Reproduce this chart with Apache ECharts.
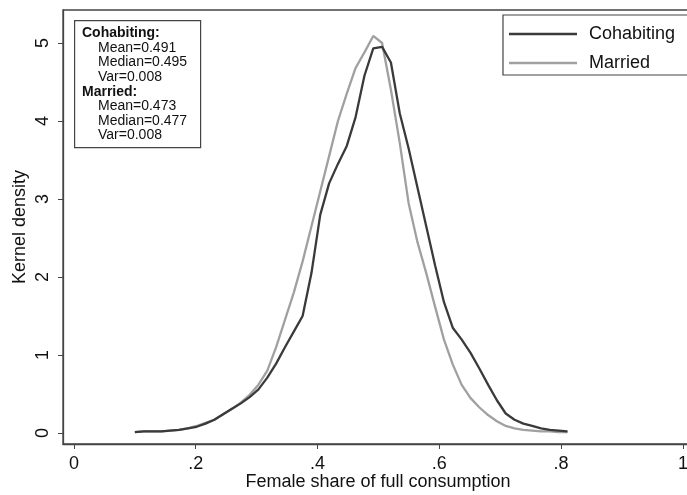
<!DOCTYPE html>
<html>
<head>
<meta charset="utf-8">
<script src="https://cdn.jsdelivr.net/npm/echarts@6/dist/echarts.min.js"></script>
<style>
html,body{margin:0;padding:0;background:#fff;}
#chart{width:687px;height:495px;}
</style>
</head>
<body>
<div id="chart"></div>
<script>
// Evaluation points (female share of full consumption)
const xPoints = [0.1, 0.1145, 0.129, 0.1435, 0.158, 0.1725, 0.187, 0.2015, 0.216, 0.2305,
  0.245, 0.2595, 0.274, 0.2885, 0.303, 0.3175, 0.332, 0.3465, 0.361, 0.3755,
  0.39, 0.4045, 0.419, 0.4335, 0.448, 0.4625, 0.477, 0.4915, 0.506, 0.5205,
  0.535, 0.5495, 0.564, 0.5785, 0.593, 0.6075, 0.622, 0.6365, 0.651, 0.6655,
  0.68, 0.6945, 0.709, 0.7235, 0.738, 0.7525, 0.767, 0.7815, 0.796, 0.8105];
const cohabiting = [0.01, 0.02, 0.02, 0.02, 0.03, 0.04, 0.06, 0.08, 0.12, 0.17,
  0.24, 0.31, 0.38, 0.46, 0.56, 0.71, 0.89, 1.10, 1.30, 1.50,
  2.05, 2.80, 3.20, 3.45, 3.68, 4.05, 4.58, 4.93, 4.95, 4.75,
  4.10, 3.65, 3.15, 2.65, 2.15, 1.68, 1.35, 1.20, 1.03, 0.83,
  0.62, 0.42, 0.25, 0.17, 0.12, 0.09, 0.06, 0.04, 0.03, 0.02];
const married = [0.01, 0.02, 0.02, 0.02, 0.03, 0.04, 0.06, 0.09, 0.13, 0.17,
  0.24, 0.31, 0.39, 0.49, 0.62, 0.80, 1.10, 1.45, 1.80, 2.20,
  2.65, 3.10, 3.55, 4.00, 4.35, 4.68, 4.88, 5.09, 5.00, 4.40,
  3.72, 2.95, 2.45, 2.05, 1.62, 1.20, 0.88, 0.62, 0.45, 0.33,
  0.23, 0.15, 0.09, 0.06, 0.04, 0.03, 0.02, 0.02, 0.01, 0.01];
const xTicks = [0, 0.2, 0.4, 0.6, 0.8, 1];
const yTicks = [0, 1, 2, 3, 4, 5];
const seriesNames = ['Cohabiting', 'Married'];
const statsLines = [
  ['Cohabiting:', 'Mean=0.491', 'Median=0.495', 'Var=0.008'],
  ['Married:', 'Mean=0.473', 'Median=0.477', 'Var=0.008']
];

const FONT = '"Liberation Sans", Arial, Helvetica, sans-serif';
const chart = echarts.init(document.getElementById('chart'), null, {renderer: 'canvas'});

let statsText = [];
statsLines.forEach(g => {
  statsText.push('{h|' + g[0] + '}');
  g.slice(1).forEach(t => statsText.push('{i|' + t + '}'));
});

const fmtX = v => {
  if (Math.abs(v) < 1e-9) return '0';
  if (Math.abs(v - 1) < 1e-9) return '1';
  return String(+v.toFixed(1)).replace(/^0\./, '.');
};
const lineIcon = 'path://M0,0H100V3.6H0Z';

chart.setOption({
  backgroundColor: '#fff',
  animation: false,
  textStyle: {fontFamily: FONT},
  grid: {
    left: 63, top: 10, width: 640, height: 434,
    outerBoundsMode: 'none', containLabel: false,
    show: true, borderColor: '#444', borderWidth: 1.3, backgroundColor: '#fff'
  },
  xAxis: {
    type: 'value', min: -0.018, max: 1.033,
    name: 'Female share of full consumption', nameLocation: 'middle', nameGap: 29,
    nameMoveOverlap: false,
    nameTextStyle: {fontSize: 18, color: '#111', fontFamily: FONT, padding: [0, 10, 0, 0]},
    axisLine: {show: true, onZero: false, lineStyle: {color: '#444', width: 1.3}},
    axisTick: {show: true, customValues: xTicks, length: 5, lineStyle: {color: '#444'}},
    axisLabel: {customValues: xTicks, formatter: fmtX, fontSize: 18, color: '#111', margin: 11, fontFamily: FONT},
    splitLine: {show: false}
  },
  yAxis: {
    type: 'value', min: -0.141, max: 5.423,
    name: 'Kernel density', nameLocation: 'middle', nameGap: 34, nameRotate: 90,
    nameMoveOverlap: false,
    nameTextStyle: {fontSize: 18, color: '#111', fontFamily: FONT},
    axisLine: {show: true, onZero: false, lineStyle: {color: '#444', width: 1.3}},
    axisTick: {show: true, customValues: yTicks, length: 5, lineStyle: {color: '#444'}},
    axisLabel: {customValues: yTicks, rotate: 90, fontSize: 18, color: '#111', margin: 11, fontFamily: FONT},
    splitLine: {show: false}
  },
  legend: {
    orient: 'vertical', left: 503, top: 15,
    data: seriesNames.map(n => ({name: n, icon: lineIcon})),
    itemWidth: 68, itemHeight: 14, itemGap: 11, symbolKeepAspect: true,
    padding: [10, 120, 3, 6],
    borderColor: '#444', borderWidth: 1.2, backgroundColor: '#fff',
    textStyle: {fontSize: 18, color: '#111', fontFamily: FONT, padding: [0, 0, 0, 7]}
  },
  graphic: [
    {type: 'rect', left: 74, top: 20, shape: {width: 126, height: 127},
     style: {fill: '#fff', stroke: '#444', lineWidth: 1.2}, z: 100},
    {type: 'text', left: 82, top: 26, z: 101,
     style: {
       text: statsText.join('\n'),
       fontFamily: FONT, fontSize: 14, lineHeight: 14.6, fill: '#111',
       rich: {
         h: {fontWeight: 'bold', fontSize: 14, lineHeight: 14.6, fontFamily: FONT, fill: '#111'},
         i: {fontSize: 14, lineHeight: 14.6, fontFamily: FONT, padding: [0, 0, 0, 16], fill: '#111'}
       }
     }}
  ],
  series: [
    {name: seriesNames[0], type: 'line', data: xPoints.map((x, i) => [x, cohabiting[i]]),
     showSymbol: false, symbol: 'none', lineStyle: {color: '#3a3a3a', width: 2.3}, itemStyle: {color: '#3a3a3a'}, z: 3},
    {name: seriesNames[1], type: 'line', data: xPoints.map((x, i) => [x, married[i]]),
     showSymbol: false, symbol: 'none', lineStyle: {color: '#a0a0a0', width: 2.3}, itemStyle: {color: '#a0a0a0'}, z: 2}
  ]
});
</script>
</body>
</html>
